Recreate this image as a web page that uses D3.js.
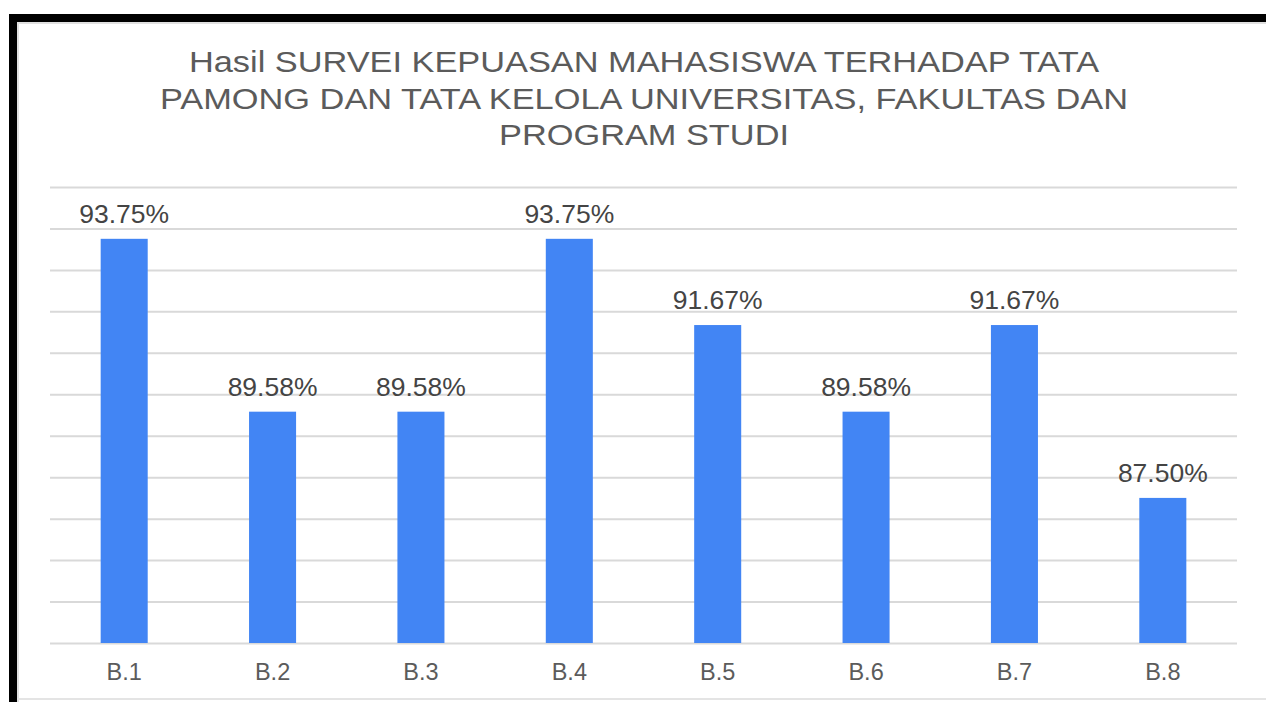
<!DOCTYPE html>
<html>
<head>
<meta charset="utf-8">
<script src="https://cdn.jsdelivr.net/npm/d3@7"></script>
<style>
  html, body { margin: 0; padding: 0; background: #fff; }
  svg { display: block; }
</style>
</head>
<body>
<svg id="chart" width="1266" height="702"></svg>
<script>
const titleLines = [
  "Hasil SURVEI KEPUASAN MAHASISWA TERHADAP TATA",
  "PAMONG DAN TATA KELOLA UNIVERSITAS, FAKULTAS DAN",
  "PROGRAM STUDI"
];
const categories = ["B.1", "B.2", "B.3", "B.4", "B.5", "B.6", "B.7", "B.8"];
const values = [93.75, 89.58, 89.58, 93.75, 91.67, 89.58, 91.67, 87.50];
const valueLabels = ["93.75%", "89.58%", "89.58%", "93.75%", "91.67%", "89.58%", "91.67%", "87.50%"];
const yDomain = [84, 95];
const gridTicks = [84, 85, 86, 87, 88, 89, 90, 91, 92, 93, 94, 95];

(function () {
const svg = d3.select("#chart");
const W = 1266, H = 702;
const font = "'Liberation Sans', Arial, sans-serif";
const textColor = "#5b5b5b";

// frame: black top and left bars, light gray inner border
svg.append("rect").attr("x", 9).attr("y", 14).attr("width", W - 9).attr("height", 8).attr("fill", "#000");
svg.append("rect").attr("x", 9).attr("y", 14).attr("width", 8).attr("height", H - 14).attr("fill", "#000");
svg.append("rect").attr("x", 17).attr("y", 22).attr("width", W - 17).attr("height", 2).attr("fill", "#e0e0e0");
svg.append("rect").attr("x", 17).attr("y", 22).attr("width", 2).attr("height", H - 22).attr("fill", "#e0e0e0");
svg.append("rect").attr("x", 17).attr("y", 698).attr("width", W - 17).attr("height", 2).attr("fill", "#e4e4e4");

const plotLeft = 50, plotRight = 1237, plotTop = 187, plotBottom = 643;

const x = d3.scaleBand().domain(categories).range([plotLeft, plotRight]).paddingInner(0.683).paddingOuter(0.3415);
const y = d3.scaleLinear().domain(yDomain).range([plotBottom, plotTop]);

// title (horizontally stretched like the reference)
svg.append("g").selectAll("text").data(titleLines).join("text")
  .attr("transform", (d, i) => `translate(644,${72 + i * 36.5}) scale(1.145,1)`)
  .attr("text-anchor", "middle")
  .attr("font-family", font).attr("font-size", 30)
  .attr("fill", textColor)
  .text(d => d);

// gridlines
const yAxis = d3.axisLeft(y).tickValues(gridTicks).tickSize(-(plotRight - plotLeft)).tickFormat("");
const g = svg.append("g").attr("transform", `translate(${plotLeft},0)`).call(yAxis);
g.select(".domain").remove();
g.selectAll(".tick line").attr("stroke", "#d9d9d9").attr("stroke-width", 2);

// bars
svg.append("g").selectAll("rect").data(values).join("rect")
  .attr("x", (d, i) => x(categories[i]))
  .attr("y", d => y(d))
  .attr("width", x.bandwidth())
  .attr("height", d => plotBottom - y(d))
  .attr("fill", "#4285f4");

// value labels
svg.append("g").selectAll("text").data(values).join("text")
  .attr("transform", (d, i) => `translate(${x(categories[i]) + x.bandwidth() / 2},${y(d) - 16}) scale(1.06,1)`)
  .attr("text-anchor", "middle")
  .attr("font-family", font).attr("font-size", 25)
  .attr("fill", "#444")
  .text((d, i) => valueLabels[i]);

// x axis labels
const xAxis = d3.axisBottom(x).tickSize(0).tickPadding(0);
const gx = svg.append("g").attr("transform", `translate(0,${plotBottom})`).call(xAxis);
gx.select(".domain").remove();
gx.selectAll(".tick text")
  .attr("dy", null)
  .attr("y", 36.5)
  .attr("font-family", font).attr("font-size", 23.5)
  .attr("fill", textColor);
})();
</script>
</body>
</html>
